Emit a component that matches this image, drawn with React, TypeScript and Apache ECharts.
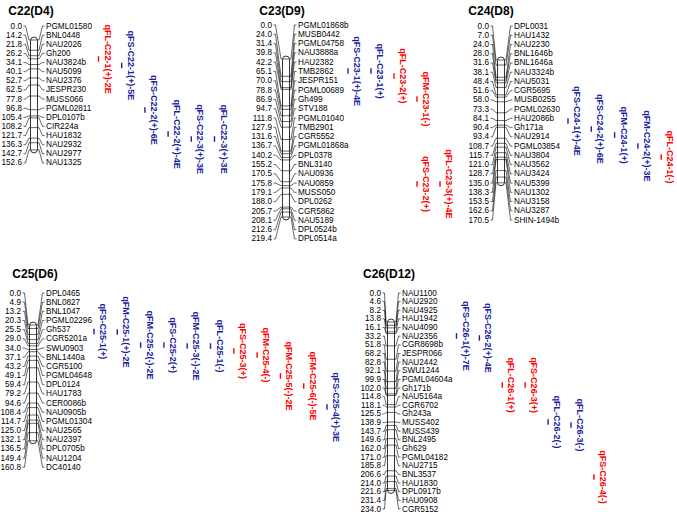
import React, { useEffect, useRef } from "react";
import * as echarts from "echarts";

// ---------------- data ----------------
const c22Names = ["PGML01580","BNL0448","NAU2026","Gh200","NAU3824b","NAU5099","NAU2376","JESPR230","MUSS066","PGML02811","DPL0107b","CIR224a","HAU1832","NAU2932","NAU2977","NAU1325"];
const c22Pos = [0.0,14.2,21.8,26.2,34.1,40.1,52.7,62.5,77.8,96.8,105.4,108.2,121.7,136.3,142.7,152.6];
const c22Qtl = ["qFL-C22-1(+)-2E","qFS-C22-1(+)-5E","qFS-C22-2(+)-6E","qFL-C22-2(+)-4E","qFS-C22-3(+)-3E","qFL-C22-3(+)-3E"];
const c22QtlPos = [26.4,35.4,97.2,130.6,137.5,137.5];
const c22QtlCol = [0,1,2,3,4,5];
const c22QtlSign = ["r","b","b","b","b","b"];

const c23Names = ["PGML01868b","MUSB0442","PGML04758","NAU3888a","HAU2382","TMB2862","JESPR151","PGML00689","Gh499","STV188","PGML01040","TMB2901","CGR5552","PGML01868a","DPL0378","BNL3140","NAU0936","NAU0859","MUSS050","DPL0262","CGR5862","NAU5189","DPL0524b","DPL0514a"];
const c23Pos = [0.0,24.0,31.4,39.8,42.2,65.1,70.0,78.8,86.9,94.7,111.8,127.9,131.6,136.7,140.2,155.2,170.5,175.8,179.1,188.0,205.7,208.1,212.6,219.4];
const c23Qtl = ["qFS-C23-1(+)-4E","qFL-C23-1(+)","qFL-C23-2(+)","qFM-C23-1(-)","qFS-C23-2(+)","qFL-C23-3(+)-4E"];
const c23QtlPos = [16.7,16.7,23.6,55.6,173.6,173.6];
const c23QtlCol = [0,1,2,3,3,4];
const c23QtlSign = ["b","b","r","r","r","r"];

const c24Names = ["DPL0031","HAU1432","NAU2230","BNL1646b","BNL1646a","NAU3324b","NAU5031","CGR5695","MUSB0255","PGML02630","HAU2086b","Gh171a","NAU2914","PGML03854","NAU3804","NAU3562","NAU3424","NAU5399","NAU1302","NAU3158","NAU3287","SHIN-1494b"];
const c24Pos = [0.0,7.0,24.0,28.0,31.6,38.1,48.4,51.6,58.0,73.3,84.1,90.4,93.4,108.7,115.7,121.0,128.7,135.0,138.3,153.5,162.6,170.5];
const c24Qtl = ["qFS-C24-1(+)-4E","qFS-C24-2(+)-6E","qFM-C24-1(+)","qFM-C24-2(+)-3E","qFL-C24-1(-)"];
const c24QtlPos = [84.7,95.8,104.2,119.4,134.7];
const c24QtlCol = [0,1,2,3,4];
const c24QtlSign = ["b","b","b","b","r"];

const c25Names = ["DPL0465","BNL0827","BNL1047","PGML02296","Gh537","CGR5201a","SWU0903","BNL1440a","CGR5100","PGML04648","DPL0124","HAU1783","CER0086b","NAU0905b","PGML01304","NAU2565","NAU2397","DPL0705b","NAU1204","DC40140"];
const c25Pos = [0.0,4.9,13.2,20.3,25.5,29.0,34.0,37.1,43.2,49.1,59.4,79.2,94.6,108.4,114.7,125.0,132.1,136.5,149.4,160.8];
const c25Qtl = ["qFS-C25-1(+)","qFM-C25-1(+)-2E","qFM-C25-2(-)-2E","qFS-C25-2(+)","qFM-C25-3(-)-2E","qFL-C25-1(-)","qFS-C25-3(+)","qFM-C25-4(-)","qFM-C25-5(-)-2E","qFM-C25-6(-)-5E","qFS-C25-4(+)-3E"];
const c25QtlPos = [9.0,9.7,27.8,27.8,29.2,29.2,36.1,41.7,70.8,84.7,113.9];
const c25QtlCol = [0,1,2,3,4,5,6,7,8,9,10];
const c25QtlSign = ["b","b","b","b","b","b","r","r","r","r","b"];

const c26Names = ["NAU1100","NAU2920","NAU4925","HAU1942","NAU4090","NAU2356","CGR8698b","JESPR066","NAU2442","SWU1244","PGML04604a","Gh171b","NAU5164a","CGR6702","Gh243a","MUSS402","MUSS439","BNL2495","Gh629","PGML04182","NAU2715","BNL3537","HAU1830","DPL0917b","HAU0908","CGR5152"];
const c26Pos = [0.0,4.6,8.2,13.8,16.1,33.2,51.8,68.2,82.8,92.1,99.9,102.0,114.8,118.1,125.5,138.9,143.7,149.6,162.0,171.0,185.8,206.6,214.0,221.6,231.4,234.0];
const c26Qtl = ["qFS-C26-1(+)-7E","qFS-C26-2(+)-4E","qFL-C26-1(+)","qFS-C26-3(+)","qFL-C26-2(-)","qFL-C26-3(-)","qFS-C26-4(-)"];
const c26QtlPos = [19.4,22.2,87.5,87.5,138.9,143.1,215.3];
const c26QtlCol = [0,1,2,3,4,5,6];
const c26QtlSign = ["b","b","r","r","b","b","r"];

const chromTitles = ["C22(D4)","C23(D9)","C24(D8)","C25(D6)","C26(D12)"];

// ---------------- layout (pixels) ----------------
const SCALE = 0.72; // px per cM
const BAR_W = 7;
const FONT = "'Liberation Sans', Arial, sans-serif";
const RED = "#ff0000";
const BLUE = "#1e1e9c";

const layouts = [
  { cx: 34, posRight: 22, nameLeft: 46, labelTop: 26, labelStep: 9.13, barTop: 40, col0: 98.5, colStep: 23.2, titleX: 31, titleY: 11 },
  { cx: 286, posRight: 272, nameLeft: 298, labelTop: 25, labelStep: 9.3, barTop: 59, col0: 348, colStep: 23, titleX: 282, titleY: 11 },
  { cx: 501, posRight: 489, nameLeft: 514, labelTop: 26, labelStep: 9.24, barTop: 60, col0: 568, colStep: 23.3, titleX: 491, titleY: 11 },
  { cx: 33, posRight: 21, nameLeft: 46, labelTop: 293, labelStep: 9.17, barTop: 325, col0: 94, colStep: 23.3, titleX: 35, titleY: 274 },
  { cx: 391, posRight: 381, nameLeft: 402, labelTop: 293, labelStep: 8.64, barTop: 322, col0: 456.5, colStep: 22.9, titleX: 389, titleY: 274 },
];

const chroms = [
  { names: c22Names, pos: c22Pos, qtl: c22Qtl, qpos: c22QtlPos, qcol: c22QtlCol, qsign: c22QtlSign },
  { names: c23Names, pos: c23Pos, qtl: c23Qtl, qpos: c23QtlPos, qcol: c23QtlCol, qsign: c23QtlSign },
  { names: c24Names, pos: c24Pos, qtl: c24Qtl, qpos: c24QtlPos, qcol: c24QtlCol, qsign: c24QtlSign },
  { names: c25Names, pos: c25Pos, qtl: c25Qtl, qpos: c25QtlPos, qcol: c25QtlCol, qsign: c25QtlSign },
  { names: c26Names, pos: c26Pos, qtl: c26Qtl, qpos: c26QtlPos, qcol: c26QtlCol, qsign: c26QtlSign },
];

function buildOption() {
  const grid: any[] = [];
  const xAxis: any[] = [];
  const yAxis: any[] = [];
  const series: any[] = [];
  const graphic: any[] = [];

  chroms.forEach((ch, k) => {
    const L = layouts[k];
    const len = ch.pos[ch.pos.length - 1];
    const maxCol = Math.max(...ch.qcol);
    grid.push({ left: L.col0, top: L.barTop, width: maxCol * L.colStep, height: len * SCALE, containLabel: false, show: false });
    xAxis.push({ gridIndex: k, type: "value", min: 0, max: maxCol, show: false });
    yAxis.push({ gridIndex: k, type: "value", min: 0, max: len, inverse: true, show: false });

    // chromosome with markers
    series.push({
      type: "custom",
      coordinateSystem: "cartesian2d",
      xAxisIndex: k,
      yAxisIndex: k,
      silent: true,
      data: ch.pos.map((p) => [0, p]),
      renderItem: (params: any, api: any) => {
        const i = params.dataIndex;
        const cM = api.value(1);
        const y = api.coord([0, cM])[1];
        const yTop = api.coord([0, 0])[1];
        const yBot = api.coord([0, len])[1];
        const bl = L.cx - BAR_W / 2;
        const br = L.cx + BAR_W / 2;
        const ly = L.labelTop + i * L.labelStep;
        const children: any[] = [];
        if (i === 0) {
          children.push({
            type: "rect",
            shape: { x: bl, y: yTop - 3, width: BAR_W, height: yBot - yTop + 6, r: BAR_W / 2 },
            style: { fill: "#ffffff", stroke: "#000000", lineWidth: 0.8 },
          });
        }
        children.push({ type: "line", shape: { x1: bl, y1: y, x2: br, y2: y }, style: { stroke: "#000", lineWidth: 0.6 } });
        children.push({
          type: "polyline",
          shape: { points: [[L.posRight + 1.5, ly], [L.posRight + 3.5, ly], [bl - 1.5, y], [bl, y]] },
          style: { stroke: "#000", lineWidth: 0.6, fill: "none" },
        });
        children.push({
          type: "polyline",
          shape: { points: [[L.nameLeft - 1.5, ly], [L.nameLeft - 3.5, ly], [br + 1.5, y], [br, y]] },
          style: { stroke: "#000", lineWidth: 0.6, fill: "none" },
        });
        children.push({
          type: "text", x: L.posRight, y: ly,
          style: { text: ch.pos[i].toFixed(1), font: `8.2px ${FONT}`, fill: "#000", align: "right", verticalAlign: "middle" },
        });
        children.push({
          type: "text", x: L.nameLeft, y: ly,
          style: { text: ch.names[i], font: `8.2px ${FONT}`, fill: "#000", align: "left", verticalAlign: "middle" },
        });
        return { type: "group", children };
      },
    });

    // QTLs
    series.push({
      type: "custom",
      coordinateSystem: "cartesian2d",
      xAxisIndex: k,
      yAxisIndex: k,
      silent: true,
      data: ch.qpos.map((p, j) => [ch.qcol[j], p]),
      renderItem: (params: any, api: any) => {
        const j = params.dataIndex;
        const pt = api.coord([api.value(0), api.value(1)]);
        const color = ch.qsign[j] === "r" ? RED : BLUE;
        return {
          type: "group",
          children: [
            { type: "line", shape: { x1: pt[0], y1: pt[1] - 2.8, x2: pt[0], y2: pt[1] + 2.8 }, style: { stroke: color, lineWidth: 1.4 } },
            {
              type: "text", x: pt[0] + 9, y: pt[1], rotation: -Math.PI / 2,
              style: { text: ch.qtl[j], font: `bold 9px ${FONT}`, fill: color, align: "center", verticalAlign: "middle" },
            },
          ],
        };
      },
    });

    graphic.push({
      type: "text", x: L.titleX, y: L.titleY,
      style: { text: chromTitles[k], font: `bold 12px ${FONT}`, fill: "#000", align: "center", verticalAlign: "middle" },
    });
  });

  return { animation: false, backgroundColor: "#ffffff", grid, xAxis, yAxis, series, graphic };
}

export default function App() {
  const ref = useRef<HTMLDivElement>(null);
  useEffect(() => {
    if (!ref.current) return;
    const chart = echarts.init(ref.current, undefined, { renderer: "svg" });
    chart.setOption(buildOption() as any);
    return () => chart.dispose();
  }, []);
  return <div ref={ref} style={{ position: "fixed", left: 0, top: 0, width: 677, height: 523, background: "#fff" }} />;
}
